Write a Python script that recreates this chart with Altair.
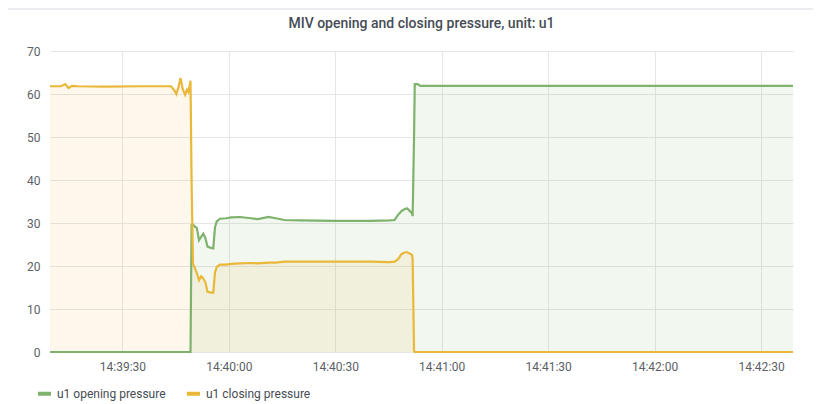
import altair as alt
import pandas as pd

# seconds after 14:39:00
t_sec = [9.6, 12.7, 13.9, 14.8, 15.8, 17.5, 25.0, 35.0, 43.7, 44.7, 45.2, 45.8, 46.4, 47.0,
         47.7, 48.2, 48.6, 49.2, 49.5, 49.9, 50.4, 51.0, 51.6, 52.2, 52.8, 53.4, 54.0, 55.0,
         55.6, 56.1, 56.6, 57.5, 59.2, 60.7, 63.2, 66.2, 68.2, 71.2, 73.2, 75.7, 80.0, 90.0,
         100.0, 105.2, 106.7, 107.7, 108.7, 109.7, 110.3, 111.6, 111.8, 112.2, 112.4, 113.2,
         114.0, 219.0]
opening = [0, 0, 0, 0, 0, 0, 0, 0, 0, 0, 0, 0, 0, 0,
           0, 0, 0, 0, 29.5, 29.6, 29.2, 28.8, 26.0, 26.8, 27.5, 26.5, 24.5, 24.2,
           24.1, 29.0, 30.4, 31.0, 31.1, 31.3, 31.4, 31.1, 30.9, 31.4, 31.1, 30.7, 30.6, 30.5,
           30.5, 30.6, 30.7, 31.9, 32.8, 33.3, 33.4, 32.3, 31.6, 50.0, 62.3, 62.3,
           61.9, 61.9]
closing = [61.8, 61.8, 62.3, 61.4, 61.9, 61.8, 61.7, 61.8, 61.8, 60.8, 60.0, 61.6, 63.7, 61.2,
           59.8, 61.0, 60.5, 63.1, 40.0, 20.5, 19.6, 18.3, 16.7, 17.6, 17.1, 16.2, 14.0, 13.8,
           13.8, 18.5, 19.8, 20.3, 20.3, 20.5, 20.6, 20.7, 20.6, 20.8, 20.8, 21.0, 21.0, 21.0,
           21.0, 20.9, 21.0, 21.6, 22.8, 23.2, 23.2, 22.6, 21.8, 0.2, 0.0, 0.0,
           0.0, 0.0]

series_names = ["u1 opening pressure", "u1 closing pressure"]
series_colors = ["#7EB26D", "#EAB839"]
x_tick_sec = [30, 60, 90, 120, 150, 180, 210]
y_ticks = [0, 10, 20, 30, 40, 50, 60, 70]
title_text = ["MIV opening and closing pressure, unit: u1"]


def ts(s):
    m = 39 + int(s // 60)
    sec = s - (int(s // 60)) * 60
    whole = int(sec)
    ms = int(round((sec - whole) * 1000))
    return f"2021-01-01T14:{m:02d}:{whole:02d}.{ms:03d}"


def dt(s):
    m = 39 + int(s // 60)
    sec = s - (int(s // 60)) * 60
    whole = int(sec)
    ms = int(round((sec - whole) * 1000))
    return alt.DateTime(year=2021, month=1, date=1, hours=14, minutes=m, seconds=whole, milliseconds=ms)


rows = []
for i, s in enumerate(t_sec):
    rows.append({"time": ts(s), "value": opening[i], "series": series_names[0], "order": 0})
    rows.append({"time": ts(s), "value": closing[i], "series": series_names[1], "order": 1})
df = pd.DataFrame(rows)

x_enc = alt.X(
    "time:T",
    scale=alt.Scale(domain=[dt(t_sec[0]), dt(t_sec[-1])], nice=False),
    axis=alt.Axis(
        title=None, format="%H:%M:%S", values=[dt(v) for v in x_tick_sec],
        domain=False, ticks=False, labelPadding=9, grid=True,
        gridColor="#e6e6e6", labelColor="#5c5f66", labelFontSize=12, labelFont="Roboto",
    ),
)
y_enc = alt.Y(
    "value:Q", stack=None,
    scale=alt.Scale(domain=[0, 70], nice=False),
    axis=alt.Axis(
        title=None, values=y_ticks, domain=False, ticks=False, labelPadding=10,
        gridColor="#e6e6e6", labelColor="#5c5f66", labelFontSize=12, labelFont="Roboto",
    ),
)
color_scale = alt.Scale(domain=series_names, range=series_colors)
legend = alt.Legend(
    title=None, orient="none", direction="horizontal", legendX=-14, legendY=334,
    symbolType="stroke", symbolStrokeWidth=4, symbolSize=169, labelOffset=4,
    columnPadding=13, labelFontSize=12, labelFont="Roboto", labelColor="#464c54",
    symbolOpacity=1,
)

area = alt.Chart(df).mark_area(opacity=0.1, interpolate="linear").encode(
    x=x_enc, y=y_enc,
    color=alt.Color("series:N", scale=color_scale, legend=legend, sort=series_names),
    order=alt.Order("order:Q"),
)

lines = alt.Chart(df).mark_line(strokeWidth=2.2).encode(
    x=x_enc, y=y_enc,
    color=alt.Color("series:N", scale=color_scale, sort=series_names, legend=legend),
    order=alt.Order("time:T"),
)

border = alt.Chart(pd.DataFrame({"a": [0]})).mark_rule(color="#ececf0", strokeWidth=2).encode(
    x=alt.value(-42), x2=alt.value(773), y=alt.value(-42)
)

title = alt.Chart(pd.DataFrame({"label": title_text})).mark_text(
    fontSize=14, font="Roboto", fontWeight=500, color="#464c54",
    align="center", baseline="middle",
).encode(x=alt.value(371.5), y=alt.value(-27), text="label:N")

chart = alt.layer(area, lines, border, title).properties(
    width=743, height=301,
    autosize=alt.AutoSizeParams(type="none"),
    padding={"left": 42, "top": 43, "right": 20, "bottom": 52},
).configure_view(stroke=None)

chart.save("out.html", embed_options={"renderer": "svg", "actions": False})
